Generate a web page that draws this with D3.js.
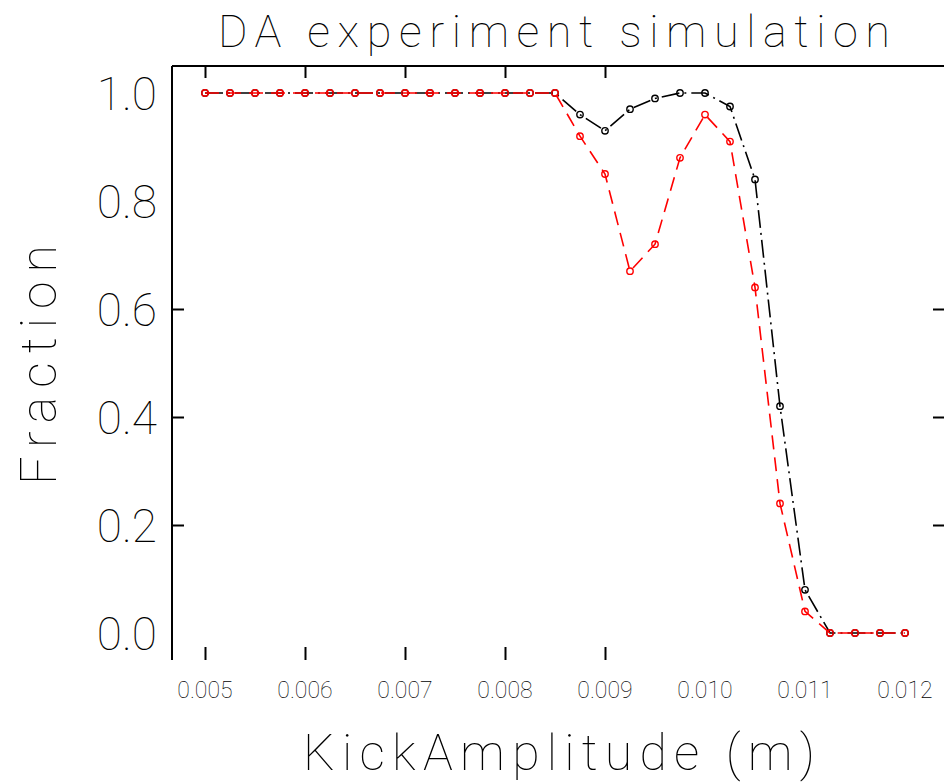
<!DOCTYPE html>
<html>
<head>
<meta charset="utf-8">
<script src="https://cdn.jsdelivr.net/npm/d3@7"></script>
<style>
  body { margin: 0; background: #fff; }
  text { font-family: Roboto, "DejaVu Sans", sans-serif; font-weight: 100; fill: #000; }
</style>
</head>
<body>
<svg id="chart" width="944" height="783"></svg>
<script>
// kick amplitude (m)
var kick = [0.005, 0.00525, 0.0055, 0.00575, 0.006, 0.00625, 0.0065, 0.00675,
            0.007, 0.00725, 0.0075, 0.00775, 0.008, 0.00825, 0.0085, 0.00875,
            0.009, 0.00925, 0.0095, 0.00975, 0.010, 0.01025, 0.0105, 0.01075,
            0.011, 0.01125, 0.0115, 0.01175, 0.012];
var redFraction = [1, 1, 1, 1, 1, 1, 1, 1, 1, 1, 1, 1, 1, 1, 1,
                   0.92, 0.85, 0.67, 0.72, 0.88, 0.96, 0.91, 0.64, 0.24,
                   0.04, 0, 0, 0, 0];
var blackFraction = [1, 1, 1, 1, 1, 1, 1, 1, 1, 1, 1, 1, 1, 1, 1,
                     0.96, 0.93, 0.97, 0.99, 1, 1, 0.975, 0.84, 0.42,
                     0.08, 0, 0, 0, 0];
var xTickLabels = [0.005, 0.006, 0.007, 0.008, 0.009, 0.010, 0.011, 0.012];
var yTickLabels = [0.0, 0.2, 0.4, 0.6, 0.8, 1.0];
var xTickMarks = [0.005, 0.006, 0.007, 0.008, 0.009];
var yTickMarks = [0.2, 0.4, 0.6];

var svg = d3.select("#chart");
var x = d3.scaleLinear().domain([0.00467, 0.0124]).range([172, 945]);
var y = d3.scaleLinear().domain([-0.05, 1.05]).range([660, 66]);

svg.append("rect").attr("width", 944).attr("height", 783).attr("fill", "#fff");

// frame: top and left lines
svg.append("line").attr("x1", 172).attr("x2", 945).attr("y1", 66).attr("y2", 66)
  .attr("stroke", "#000").attr("stroke-width", 2);
svg.append("line").attr("x1", 172).attr("x2", 172).attr("y1", 66).attr("y2", 660)
  .attr("stroke", "#000").attr("stroke-width", 2);

// inward tick marks
function ticks(g) {
  g.select(".domain").remove();
  g.selectAll(".tick line").attr("stroke", "#000").attr("stroke-width", 2);
}
svg.append("g").attr("transform", "translate(0,660)")
  .call(d3.axisTop(x).tickValues(xTickMarks).tickSize(13).tickFormat("")).call(ticks);
svg.append("g").attr("transform", "translate(0,66)")
  .call(d3.axisBottom(x).tickValues(xTickMarks).tickSize(12).tickFormat("")).call(ticks);
svg.append("g").attr("transform", "translate(172,0)")
  .call(d3.axisRight(y).tickValues(yTickMarks).tickSize(12).tickFormat("")).call(ticks);
svg.append("g").attr("transform", "translate(945,0)")
  .call(d3.axisLeft(y).tickValues(yTickMarks).tickSize(12).tickFormat("")).call(ticks);

// tick labels
svg.append("g").selectAll("text").data(xTickLabels).join("text")
  .attr("x", function (d) { return x(d); })
  .attr("y", 698)
  .attr("text-anchor", "middle")
  .attr("font-size", 23)
  .text(d3.format(".3f"));
svg.append("g").selectAll("text").data(yTickLabels).join("text")
  .attr("x", 157)
  .attr("y", function (d) { return y(d); })
  .attr("dy", "0.36em")
  .attr("text-anchor", "end")
  .attr("font-size", 46)
  .text(d3.format(".1f"));

// series
var line = d3.line()
  .x(function (d) { return x(d[0]); })
  .y(function (d) { return y(d[1]); });
var blackPts = d3.zip(kick, blackFraction);
var redPts = d3.zip(kick, redFraction);

svg.append("path").datum(blackPts).attr("d", line)
  .attr("fill", "none").attr("stroke", "#000").attr("stroke-width", 1.6)
  .attr("stroke-dasharray", "18,5,2,5");
svg.append("g").selectAll("circle").data(blackPts).join("circle")
  .attr("cx", function (d) { return x(d[0]); })
  .attr("cy", function (d) { return y(d[1]); })
  .attr("r", 3.2).attr("fill", "none").attr("stroke", "#000").attr("stroke-width", 1.4);

svg.append("path").datum(redPts).attr("d", line)
  .attr("fill", "none").attr("stroke", "#ff0000").attr("stroke-width", 1.6)
  .attr("stroke-dasharray", "14,8");
svg.append("g").selectAll("circle").data(redPts).join("circle")
  .attr("cx", function (d) { return x(d[0]); })
  .attr("cy", function (d) { return y(d[1]); })
  .attr("r", 3.2).attr("fill", "none").attr("stroke", "#ff0000").attr("stroke-width", 1.4);

// titles
svg.append("text").attr("x", 218).attr("y", 47)
  .attr("font-size", 45).attr("textLength", 672).attr("lengthAdjust", "spacing")
  .text("DA experiment simulation");
svg.append("text").attr("x", 303).attr("y", 770)
  .attr("font-size", 50).attr("textLength", 512).attr("lengthAdjust", "spacing")
  .text("KickAmplitude (m)");
svg.append("text")
  .attr("transform", "translate(56,365) rotate(-90)")
  .attr("text-anchor", "middle")
  .attr("font-size", 50).attr("textLength", 240).attr("lengthAdjust", "spacing")
  .text("Fraction");
</script>
</body>
</html>
